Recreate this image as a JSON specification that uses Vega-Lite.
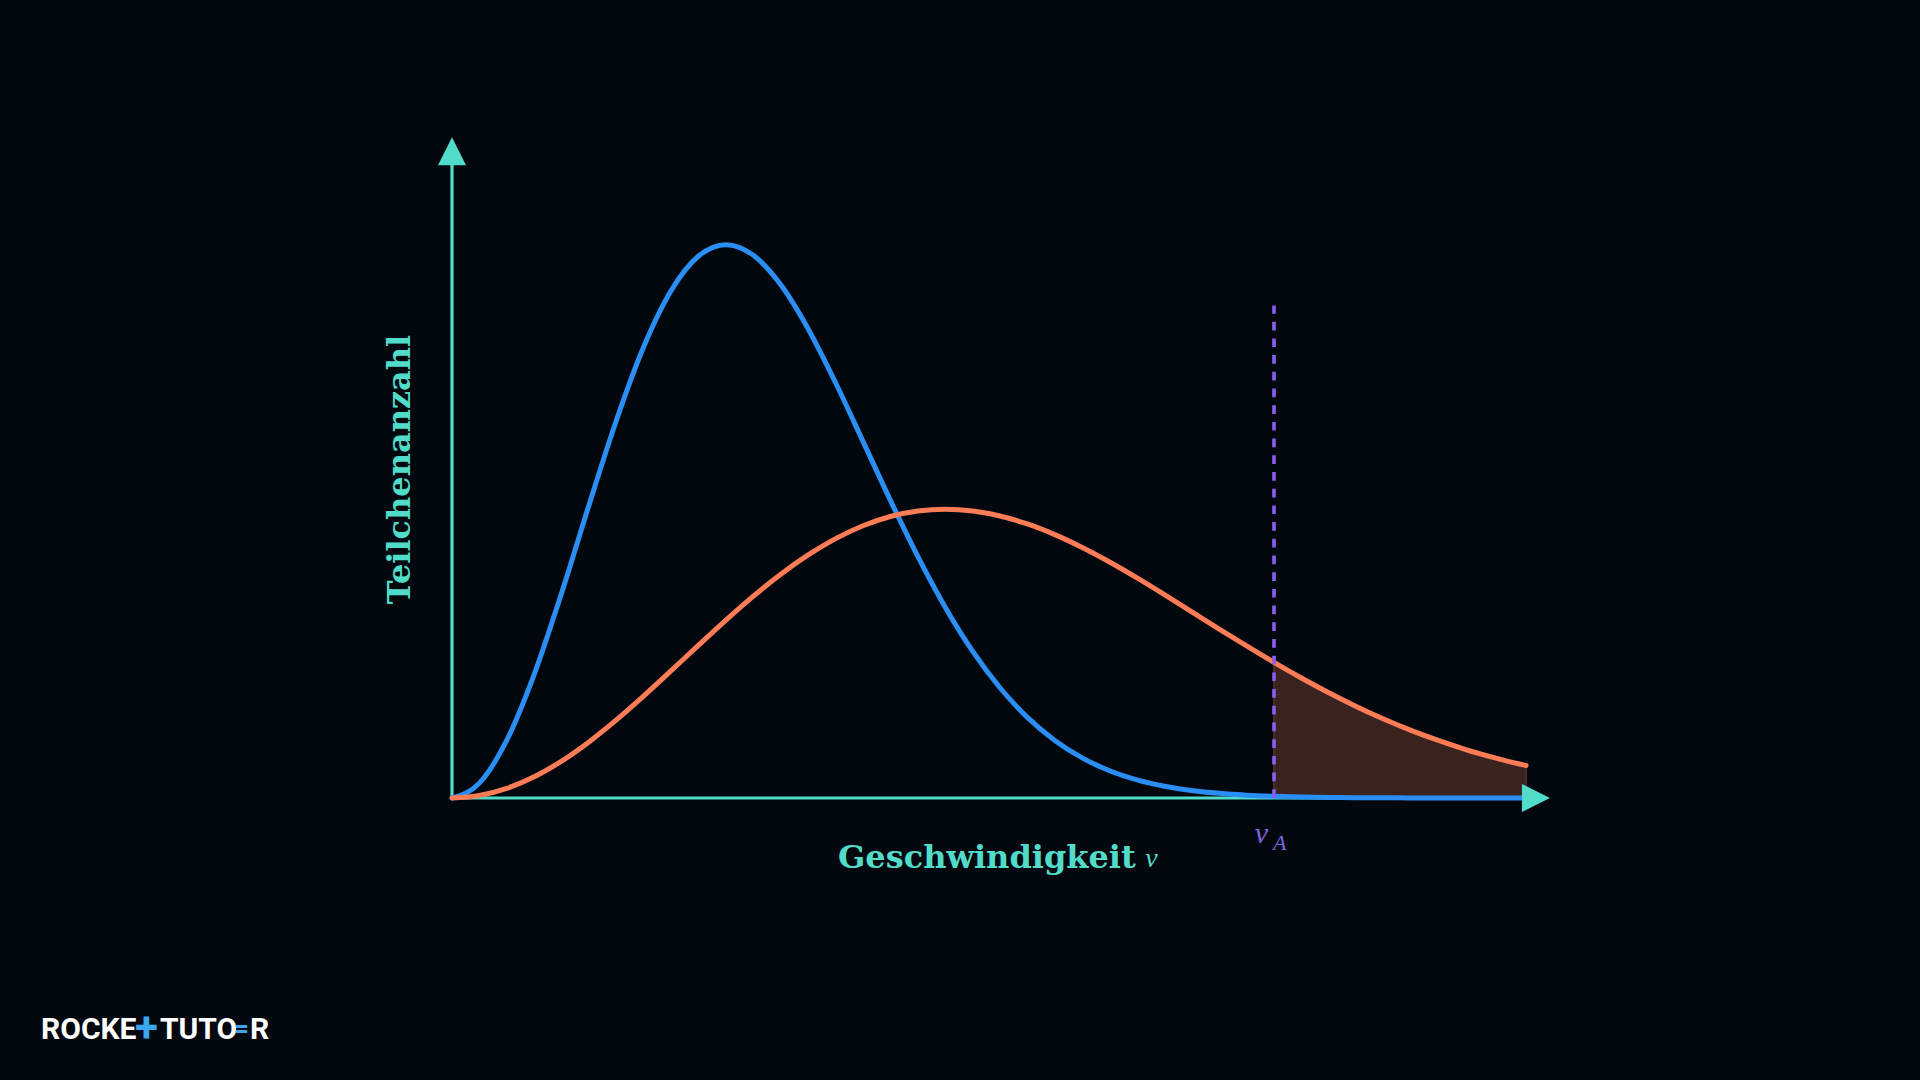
{
  "$schema": "https://vega.github.io/schema/vega-lite/v6.json",
  "width": 1096,
  "height": 664,
  "autosize": "none",
  "padding": {"left": 452, "top": 134, "right": 372, "bottom": 282},
  "background": "#03080f",
  "config": {"view": {"stroke": null}},
  "datasets": {
    "blue": [
      {"v": 0, "y": 0}, {"v": 0.1, "y": 2.69}, {"v": 0.2, "y": 10.45}, {"v": 0.3, "y": 22.36}, {"v": 0.4, "y": 37.06},
      {"v": 0.5, "y": 52.93}, {"v": 0.6, "y": 68.27}, {"v": 0.7, "y": 81.6}, {"v": 0.8, "y": 91.73}, {"v": 0.9, "y": 97.95},
      {"v": 1.0, "y": 100}, {"v": 1.1, "y": 98.08}, {"v": 1.2, "y": 92.74}, {"v": 1.3, "y": 84.77}, {"v": 1.4, "y": 75.05},
      {"v": 1.5, "y": 64.46}, {"v": 1.6, "y": 53.8}, {"v": 1.7, "y": 43.66}, {"v": 1.8, "y": 34.49}, {"v": 1.9, "y": 26.54},
      {"v": 2.0, "y": 19.92}, {"v": 2.1, "y": 14.57}, {"v": 2.2, "y": 10.4}, {"v": 2.3, "y": 7.25}, {"v": 2.4, "y": 4.93},
      {"v": 2.5, "y": 3.28}, {"v": 2.6, "y": 2.13}, {"v": 2.7, "y": 1.35}, {"v": 2.8, "y": 0.84}, {"v": 2.9, "y": 0.51},
      {"v": 3.0, "y": 0.3}, {"v": 3.1, "y": 0.17}, {"v": 3.2, "y": 0.1}, {"v": 3.3, "y": 0.05}, {"v": 3.4, "y": 0.03},
      {"v": 3.5, "y": 0.02}, {"v": 3.6, "y": 0.01}, {"v": 3.7, "y": 0}, {"v": 3.8, "y": 0}, {"v": 3.9, "y": 0}, {"v": 3.92, "y": 0}
    ],
    "orange": [
      {"v": 0, "y": 0}, {"v": 0.1, "y": 0.44}, {"v": 0.2, "y": 1.73}, {"v": 0.3, "y": 3.83}, {"v": 0.4, "y": 6.67},
      {"v": 0.5, "y": 10.14}, {"v": 0.6, "y": 14.11}, {"v": 0.7, "y": 18.45}, {"v": 0.8, "y": 23.01}, {"v": 0.9, "y": 27.63},
      {"v": 1.0, "y": 32.16}, {"v": 1.1, "y": 36.48}, {"v": 1.2, "y": 40.44}, {"v": 1.3, "y": 43.93}, {"v": 1.4, "y": 46.88},
      {"v": 1.5, "y": 49.21}, {"v": 1.6, "y": 50.88}, {"v": 1.7, "y": 51.87}, {"v": 1.8, "y": 52.2}, {"v": 1.9, "y": 51.88},
      {"v": 2.0, "y": 50.97}, {"v": 2.1, "y": 49.52}, {"v": 2.2, "y": 47.59}, {"v": 2.3, "y": 45.27}, {"v": 2.4, "y": 42.64},
      {"v": 2.5, "y": 39.77}, {"v": 2.6, "y": 36.75}, {"v": 2.7, "y": 33.65}, {"v": 2.8, "y": 30.54}, {"v": 2.9, "y": 27.48},
      {"v": 3.0, "y": 24.51}, {"v": 3.1, "y": 21.68}, {"v": 3.2, "y": 19.02}, {"v": 3.3, "y": 16.55}, {"v": 3.4, "y": 14.28},
      {"v": 3.5, "y": 12.23}, {"v": 3.6, "y": 10.4}, {"v": 3.7, "y": 8.76}, {"v": 3.8, "y": 7.34}, {"v": 3.9, "y": 6.09}, {"v": 3.92, "y": 5.87}
    ],
    "axes": [
      {"v": 0, "y": 0, "v2": 3.905, "y2": 0},
      {"v": 0, "y": 0, "v2": 0, "y2": 114.4}
    ],
    "vline": [{"v": 3, "y": 0, "y2": 89}],
    "arrows": [
      {"v": 0, "y": 116.9, "dir": "up"},
      {"v": 3.956, "y": 0, "dir": "right"}
    ]
  },
  "encoding": {
    "x": {"field": "v", "type": "quantitative", "scale": {"domain": [0, 4], "nice": false, "zero": false}, "axis": null},
    "y": {"field": "y", "type": "quantitative", "scale": {"domain": [0, 120], "nice": false, "zero": false}, "axis": null}
  },
  "layer": [
    {
      "data": {"name": "orange"},
      "transform": [{"filter": "datum.v >= 3"}],
      "mark": {"type": "area", "color": "#3a221f", "stroke": "#4e2c25", "strokeWidth": 2, "interpolate": "monotone"}
    },
    {
      "data": {"name": "axes"},
      "mark": {"type": "rule", "color": "#50dcc8", "strokeWidth": 3.2},
      "encoding": {
        "x2": {"field": "v2"},
        "y2": {"field": "y2"}
      }
    },
    {
      "data": {"name": "blue"},
      "mark": {"type": "line", "color": "#2a8ef5", "strokeWidth": 5, "interpolate": "monotone", "strokeCap": "round"}
    },
    {
      "data": {"name": "orange"},
      "mark": {"type": "line", "color": "#fe7c56", "strokeWidth": 5, "interpolate": "monotone", "strokeCap": "round"}
    },
    {
      "data": {"name": "vline"},
      "mark": {"type": "rule", "color": "#8a5ef0", "strokeWidth": 3.6, "strokeDash": [8.7, 8]},
      "encoding": {"y2": {"field": "y2"}}
    },
    {
      "data": {"name": "arrows"},
      "mark": {"type": "point", "filled": true, "size": 784, "color": "#50dcc8", "opacity": 1, "strokeWidth": 0},
      "encoding": {
        "shape": {"field": "dir", "type": "nominal", "scale": {"domain": ["up", "right"], "range": ["M0,-1L1,1L-1,1Z", "M-1,-1L1,0L-1,1Z"]}, "legend": null}
      }
    },
    {
      "data": {"values": [{"v": 1.952, "y": -12.65, "t": "Geschwindigkeit"}]},
      "mark": {"type": "text", "font": "DejaVu Serif", "fontWeight": "bold", "fontSize": 32, "color": "#50dcc8", "align": "center", "baseline": "alphabetic"},
      "encoding": {"text": {"field": "t"}}
    },
    {
      "data": {"values": [{"v": 2.53, "y": -12.47, "t": "v"}]},
      "mark": {"type": "text", "font": "Liberation Serif", "fontStyle": "italic", "fontSize": 28, "color": "#50dcc8", "align": "left", "baseline": "alphabetic"},
      "encoding": {"text": {"field": "t"}}
    },
    {
      "data": {"values": [{"v": -0.1533, "y": 59.37, "t": "Teilchenanzahl"}]},
      "mark": {"type": "text", "font": "DejaVu Serif", "fontWeight": "bold", "fontSize": 32, "color": "#50dcc8", "align": "center", "baseline": "alphabetic", "angle": 270},
      "encoding": {"text": {"field": "t"}}
    },
    {
      "data": {"values": [{"v": 2.93, "y": -8.13, "t": "v"}]},
      "mark": {"type": "text", "font": "Liberation Serif", "fontStyle": "italic", "fontSize": 30, "color": "#7c66e0", "align": "left", "baseline": "alphabetic"},
      "encoding": {"text": {"field": "t"}}
    },
    {
      "data": {"values": [{"v": 2.996, "y": -9.4, "t": "A"}]},
      "mark": {"type": "text", "font": "Liberation Serif", "fontStyle": "italic", "fontSize": 22, "color": "#7c66e0", "align": "left", "baseline": "alphabetic"},
      "encoding": {"text": {"field": "t"}}
    },
    {
      "data": {"values": [{"v": -1.5, "y": -43.56, "t": "ROCKE"}, {"v": -1.066, "y": -43.56, "t": "TUTO"}, {"v": -0.737, "y": -43.56, "t": "R"}]},
      "mark": {"type": "text", "font": "Roboto", "fontWeight": "bold", "fontSize": 30, "color": "#ffffff", "align": "left", "baseline": "alphabetic"},
      "encoding": {"text": {"field": "t"}}
    },
    {
      "data": {"values": [{"v": -1.115, "y": -43.56, "t": "+", "s": 42}]},
      "mark": {"type": "text", "font": "Roboto", "fontWeight": "bold", "fontSize": 42, "color": "#3aa6f0", "align": "center", "baseline": "alphabetic", "dy": 3},
      "encoding": {"text": {"field": "t"}}
    },
    {
      "data": {"values": [{"v": -0.768, "y": -43.56, "t": "="}]},
      "mark": {"type": "text", "font": "Roboto", "fontWeight": "bold", "fontSize": 26, "color": "#3aa6f0", "align": "center", "baseline": "alphabetic", "dy": -2},
      "encoding": {"text": {"field": "t"}}
    }
  ]
}
